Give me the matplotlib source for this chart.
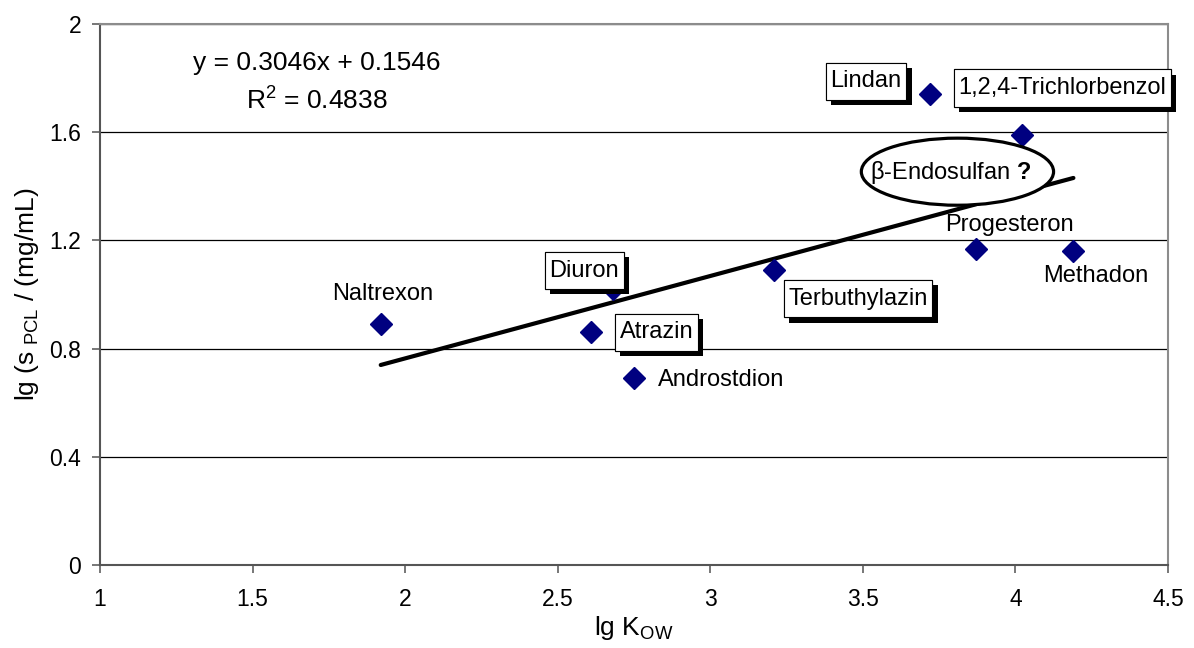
import matplotlib
matplotlib.use("Agg")
import matplotlib.pyplot as plt
import matplotlib.patheffects as pe
from matplotlib.patches import Ellipse
from matplotlib.path import Path
import numpy as np

plt.rcParams["font.family"] = ["Liberation Sans", "DejaVu Sans"]
plt.rcParams["mathtext.fontset"] = "custom"
plt.rcParams["mathtext.rm"] = "Liberation Sans"
plt.rcParams["mathtext.bf"] = "Liberation Sans:bold"
plt.rcParams["mathtext.default"] = "regular"

# Substances, log octanol/water partition coefficient, log solubility in PCL
compounds = ["Naltrexon", "Diuron", "Atrazin", "Androstdion", "Terbuthylazin",
             "Lindan", "1,2,4-Trichlorbenzol", "Progesteron", "Methadon"]
lg_kow = [1.92, 2.68, 2.61, 2.75, 3.21, 3.72, 4.02, 3.87, 4.19]
lg_s = [0.89, 1.02, 0.86, 0.69, 1.09, 1.74, 1.59, 1.17, 1.16]

# Linear regression reported on the chart
slope = 0.3046
intercept = 0.1546
r_squared = 0.4838

x_ticks = [1, 1.5, 2, 2.5, 3, 3.5, 4, 4.5]
y_ticks = [0, 0.4, 0.8, 1.2, 1.6, 2]

# label placement: (dx, dy) offset in points, alignment, boxed?
label_style = {
    "Naltrexon": ((1.4, 21.6), "center", False),
    "Diuron": ((-20.5, 13.3), "center", True),
    "Atrazin": ((47.0, 0.0), "center", True),
    "Androstdion": ((17.3, -1.4), "left", False),
    "Terbuthylazin": ((60.2, -20.6), "center", True),
    "Lindan": ((-46.0, 9.4), "center", True),
    "1,2,4-Trichlorbenzol": ((29.5, 33.8), "center", True),
    "Progesteron": ((24.5, 16.6), "center", False),
    "Methadon": ((15.8, -18.0), "center", False),
}


def label_box(x0, y0, width, height, mutation_size):
    """Rectangular frame with more vertical than horizontal padding."""
    px = 0.2 * mutation_size
    py = 0.32 * mutation_size
    x0, y0 = x0 - px, y0 - py
    x1, y1 = x0 + width + 2 * px, y0 + height + 2 * py
    return Path([(x0, y0), (x1, y0), (x1, y1), (x0, y1), (x0, y0)],
                closed=True)


fig = plt.figure(figsize=(11.94, 6.48), dpi=100)
ax = fig.add_axes([100 / 1194, 1 - 565 / 648, 1068 / 1194, 541 / 648])

ax.set_xlim(1, 4.5)
ax.set_ylim(0, 2)
ax.set_xticks(x_ticks)
ax.set_xticklabels([f"{t:g}" for t in x_ticks])
ax.set_yticks(y_ticks)
ax.set_yticklabels([f"{t:g}" for t in y_ticks])
ax.tick_params(axis="both", direction="out", length=5.5, width=1.2,
               color="#606060", labelsize=16.5)
ax.tick_params(axis="x", pad=11)
ax.tick_params(axis="y", pad=8)

for side in ("left", "bottom"):
    ax.spines[side].set_color("#555555")
    ax.spines[side].set_linewidth(1.5)
for side in ("top", "right"):
    ax.spines[side].set_color("#8c8c8c")
    ax.spines[side].set_linewidth(1.5)

ax.yaxis.grid(True, color="black", linewidth=0.9)
ax.set_axisbelow(True)

# regression line across the data range
xs = np.array([min(lg_kow), max(lg_kow)])
ax.plot(xs, slope * xs + intercept, color="black", linewidth=3.0,
        solid_capstyle="round", zorder=2)

ax.plot(lg_kow, lg_s, linestyle="none", marker="D", markersize=11.5,
        color="#000080", markeredgecolor="#000080", zorder=3)

shadow = [pe.withSimplePatchShadow(offset=(3.8, -3.8), shadow_rgbFace="black",
                                   alpha=1.0), pe.Normal()]

for name, x, y in zip(compounds, lg_kow, lg_s):
    (dx, dy), ha, boxed = label_style[name]
    kw = dict(xy=(x, y), xytext=(dx, dy), textcoords="offset points",
              ha=ha, va="center", fontsize=17, annotation_clip=False, zorder=6)
    if boxed:
        kw["bbox"] = dict(boxstyle=label_box, facecolor="white",
                          edgecolor="black", linewidth=0.8)
    t = ax.annotate(name, **kw)
    if boxed:
        t.get_bbox_patch().set_path_effects(shadow)

# highlighted open question
ell = Ellipse((3.81, 1.454), width=0.63, height=0.248, facecolor="white",
              edgecolor="black", linewidth=2.3, zorder=4)
ax.add_patch(ell)
ax.text(3.789, 1.452, r"β-Endosulfan $\mathbf{?}$", ha="center", va="center",
        fontsize=17, zorder=5)

# regression equation
ax.text(0.2032, 0.915, f"y = {slope}x + {intercept}", transform=ax.transAxes,
        ha="center", va="baseline", fontsize=19)
ax.text(0.2032, 0.841, f"R$^2$ = {r_squared}", transform=ax.transAxes,
        ha="center", va="baseline", fontsize=19)

ax.set_xlabel(r"lg K$_{OW}$", fontsize=19, labelpad=2)
ax.set_ylabel(r"lg (s$_{\ PCL}$ / (mg/mL)", fontsize=19, labelpad=6)

fig.savefig("out.png", dpi=100)
